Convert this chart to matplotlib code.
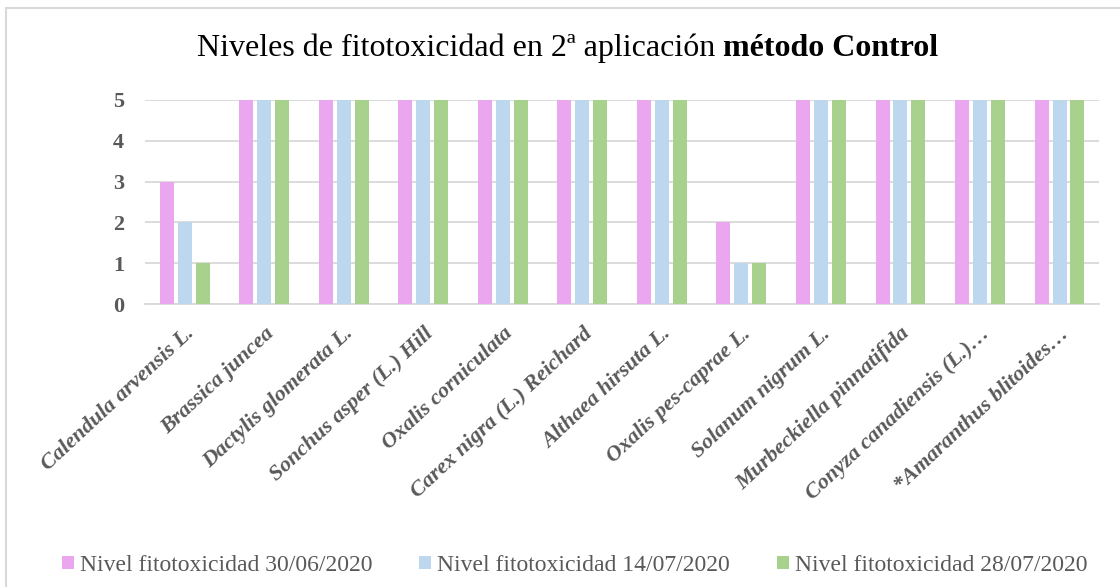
import numpy as np
import matplotlib
matplotlib.use("Agg")
import matplotlib.pyplot as plt
from matplotlib.patches import Rectangle

species = ["Calendula arvensis L.", "Brassica juncea", "Dactylis glomerata L.",
           "Sonchus asper (L.) Hill", "Oxalis corniculata", "Carex nigra (L.) Reichard",
           "Althaea hirsuta L.", "Oxalis pes-caprae L.", "Solanum nigrum L.",
           "Murbeckiella pinnatifida", "Conyza canadiensis (L.)…", "*Amaranthus blitoides…"]
nivel_3006 = [3, 5, 5, 5, 5, 5, 5, 2, 5, 5, 5, 5]
nivel_1407 = [2, 5, 5, 5, 5, 5, 5, 1, 5, 5, 5, 5]
nivel_2807 = [1, 5, 5, 5, 5, 5, 5, 1, 5, 5, 5, 5]
series_labels = ["Nivel fitotoxicidad 30/06/2020", "Nivel fitotoxicidad 14/07/2020",
                 "Nivel fitotoxicidad 28/07/2020"]
colors = ["#EBA6F0", "#BDD7EE", "#A9D18E"]

plt.rcParams['font.family'] = ['Liberation Serif', 'DejaVu Serif']

fig = plt.figure(figsize=(11.2, 5.87), dpi=100)
fig.patches.append(Rectangle((0.005, -0.01), 1.2, 0.996, transform=fig.transFigure,
                             fill=False, edgecolor="#D9D9D9", linewidth=1.5))
ax = fig.add_axes([0.1295, 0.482, 0.852, 0.348])

x = np.arange(len(species))
w = 0.176
off = 0.226
for i, vals in enumerate([nivel_3006, nivel_1407, nivel_2807]):
    ax.bar(x + (i - 1) * off, vals, width=w, color=colors[i], label=series_labels[i], zorder=3)

ax.set_xlim(-0.5, len(species) - 0.5)
ax.set_ylim(0, 5)
ax.set_yticks(range(6))
ax.yaxis.grid(True, color="#D9D9D9", linewidth=1.3, zorder=0)
for s in ["top", "right", "left"]:
    ax.spines[s].set_visible(False)
ax.spines["bottom"].set_color("#D9D9D9")
ax.spines["bottom"].set_linewidth(1.3)
ax.tick_params(axis="both", length=0, colors="#595959")
ax.tick_params(axis="y", pad=15)
for lab in ax.get_yticklabels():
    lab.set_fontsize(16)
    lab.set_fontweight("bold")

ax.set_xticks(x)
ax.set_xticklabels(species, rotation=43, ha="right", rotation_mode="anchor",
                   fontsize=16, fontweight="bold", fontstyle="italic", color="#595959")
ax.tick_params(axis="x", pad=14)

fig.text(0.6455, 0.918, "Niveles de fitotoxicidad en 2ª aplicación ", ha="right", va="center",
         fontsize=23, color="black")
fig.text(0.6455, 0.918, "método Control", ha="left", va="center",
         fontsize=23, fontweight="bold", color="black")

leg = fig.legend(loc="center", bbox_to_anchor=(0.513, 0.037), ncol=3, frameon=False,
                 fontsize=17, handlelength=0.5, handleheight=0.5, handletextpad=0.25,
                 columnspacing=2.0)
for t in leg.get_texts():
    t.set_color("#595959")

fig.savefig("out.png", dpi=100)
